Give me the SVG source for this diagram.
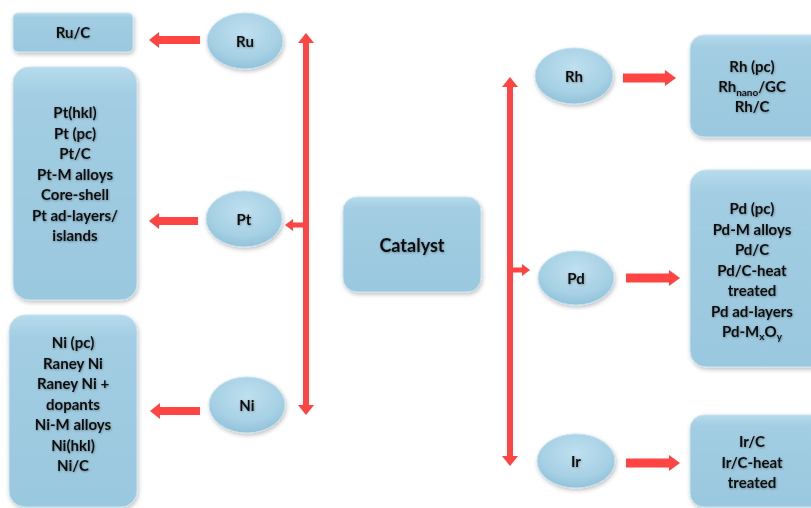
<svg xmlns="http://www.w3.org/2000/svg" width="811" height="508" viewBox="0 0 811 508">
  <defs>
    <linearGradient id="boxFill" x1="0" y1="0" x2="0" y2="1">
      <stop offset="0" stop-color="#b6dbec"/>
      <stop offset="0.12" stop-color="#a2cde2"/>
      <stop offset="1" stop-color="#9ac8de"/>
    </linearGradient>
    <radialGradient id="ovalFill" cx="0.5" cy="0.35" r="0.65">
      <stop offset="0" stop-color="#bfe0ef"/>
      <stop offset="0.7" stop-color="#a6d0e4"/>
      <stop offset="1" stop-color="#92c2da"/>
    </radialGradient>
    <filter id="shadow" x="-10%" y="-10%" width="125%" height="125%">
      <feDropShadow dx="1" dy="2" stdDeviation="2" flood-color="#000" flood-opacity="0.25"/>
    </filter>
    <filter id="textShadow" x="-10%" y="-20%" width="120%" height="150%">
      <feDropShadow dx="0.6" dy="0.8" stdDeviation="0.8" flood-color="#000" flood-opacity="0.35"/>
    </filter>
  </defs>
  <style>
    .box { fill: url(#boxFill); stroke: #c9e4f1; stroke-width: 1; filter: url(#shadow); }
    .oval { fill: url(#ovalFill); stroke: #c4e2f0; stroke-width: 1; filter: url(#shadow); }
    .lbl { font-family: Lato, "Liberation Sans", sans-serif; font-weight: bold; font-size: 15px; fill: #111; text-anchor: middle; filter: url(#textShadow); }
    .big { font-size: 18px; }
    .sub { font-size: 10px; }
    .arrow { fill: #ff4444; }
  </style>
  <rect width="811" height="508" fill="#ffffff"/>

  <!-- central node -->
  <g id="catalyst">
    <rect class="box" x="343" y="197" width="138" height="95" rx="14"/>
    <text class="lbl big" x="412" y="252">Catalyst</text>
  </g>

  <!-- left branch: metals -->
  <g id="ru">
    <ellipse class="oval" cx="245" cy="41" rx="38" ry="28"/>
    <text class="lbl" x="245" y="47">Ru</text>
  </g>
  <g id="pt">
    <ellipse class="oval" cx="244" cy="219" rx="38" ry="28"/>
    <text class="lbl" x="244" y="225">Pt</text>
  </g>
  <g id="ni">
    <ellipse class="oval" cx="247" cy="405" rx="38" ry="28"/>
    <text class="lbl" x="247" y="411">Ni</text>
  </g>

  <!-- left branch: catalyst forms -->
  <g id="ru-forms">
    <rect class="box" x="13" y="13" width="120" height="39" rx="5"/>
    <text class="lbl" x="73" y="38">Ru/C</text>
  </g>
  <g id="pt-forms">
    <rect class="box" x="13" y="67" width="124" height="233" rx="16"/>
    <text class="lbl" x="75" y="118">Pt(hkl)</text>
    <text class="lbl" x="75" y="138.5">Pt (pc)</text>
    <text class="lbl" x="75" y="159">Pt/C</text>
    <text class="lbl" x="75" y="179.5">Pt-M alloys</text>
    <text class="lbl" x="75" y="200">Core-shell</text>
    <text class="lbl" x="75" y="220.5">Pt ad-layers/</text>
    <text class="lbl" x="75" y="241">islands</text>
  </g>
  <g id="ni-forms">
    <rect class="box" x="9" y="315" width="128" height="192" rx="16"/>
    <text class="lbl" x="73" y="348">Ni (pc)</text>
    <text class="lbl" x="73" y="368.5">Raney Ni</text>
    <text class="lbl" x="73" y="389">Raney Ni +</text>
    <text class="lbl" x="73" y="409.5">dopants</text>
    <text class="lbl" x="73" y="430">Ni-M alloys</text>
    <text class="lbl" x="73" y="450.5">Ni(hkl)</text>
    <text class="lbl" x="73" y="471">Ni/C</text>
  </g>

  <!-- right branch: metals -->
  <g id="rh">
    <ellipse class="oval" cx="574" cy="76" rx="39" ry="28"/>
    <text class="lbl" x="574" y="82">Rh</text>
  </g>
  <g id="pd">
    <ellipse class="oval" cx="576" cy="278" rx="38" ry="27"/>
    <text class="lbl" x="576" y="284">Pd</text>
  </g>
  <g id="ir">
    <ellipse class="oval" cx="576" cy="461" rx="39" ry="27"/>
    <text class="lbl" x="576" y="467">Ir</text>
  </g>

  <!-- right branch: catalyst forms -->
  <g id="rh-forms">
    <rect class="box" x="690" y="35" width="140" height="102" rx="14"/>
    <text class="lbl" x="752" y="72">Rh (pc)</text>
    <text class="lbl" x="752" y="92">Rh<tspan class="sub" dy="4">nano</tspan><tspan dy="-4">/GC</tspan></text>
    <text class="lbl" x="752" y="112">Rh/C</text>
  </g>
  <g id="pd-forms">
    <rect class="box" x="690" y="170" width="140" height="197" rx="16"/>
    <text class="lbl" x="752" y="214">Pd (pc)</text>
    <text class="lbl" x="752" y="234.5">Pd-M alloys</text>
    <text class="lbl" x="752" y="255">Pd/C</text>
    <text class="lbl" x="752" y="275.5">Pd/C-heat</text>
    <text class="lbl" x="752" y="296">treated</text>
    <text class="lbl" x="752" y="316.5">Pd ad-layers</text>
    <text class="lbl" x="752" y="337">Pd-M<tspan class="sub" dy="3">x</tspan><tspan dy="-3">O</tspan><tspan class="sub" dy="3">y</tspan></text>
  </g>
  <g id="ir-forms">
    <rect class="box" x="690" y="415" width="140" height="92" rx="14"/>
    <text class="lbl" x="752" y="447">Ir/C</text>
    <text class="lbl" x="752" y="467.5">Ir/C-heat</text>
    <text class="lbl" x="752" y="488">treated</text>
  </g>

  <!-- connectors -->
  <g id="connectors">
    <!-- left trunk, double-headed -->
    <polygon class="arrow" points="306,33 314,43 309,43 309,405 314,405 306,415 298,405 303,405 303,43 298,43"/>
    <!-- right trunk, double-headed -->
    <polygon class="arrow" points="510,77 518,87 513,87 513,456 518,456 510,466 502,456 507,456 507,87 502,87"/>
    <!-- trunk to Pt -->
    <polygon class="arrow" points="304,222.5 293,222.5 293,219 285,225 293,231 293,227.5 304,227.5"/>
    <!-- trunk to Pd -->
    <polygon class="arrow" points="512,267.5 522,267.5 522,264 530,270 522,276 522,272.5 512,272.5"/>
    <!-- metals to their forms (left) -->
    <polygon class="arrow" points="200,36 159,36 159,32 149,40 159,48 159,44 200,44"/>
    <polygon class="arrow" points="198,217 159,217 159,213 149,221 159,229 159,225 198,225"/>
    <polygon class="arrow" points="200,407 160,407 160,403 150,411 160,419 160,415 200,415"/>
    <!-- metals to their forms (right) -->
    <polygon class="arrow" points="623,73.5 665,73.5 665,70 676,78 665,86 665,82.5 623,82.5"/>
    <polygon class="arrow" points="626,273.5 669,273.5 669,270 680,278 669,286 669,282.5 626,282.5"/>
    <polygon class="arrow" points="626,458.5 669,458.5 669,455 680,463 669,471 669,467.5 626,467.5"/>
  </g>
</svg>
